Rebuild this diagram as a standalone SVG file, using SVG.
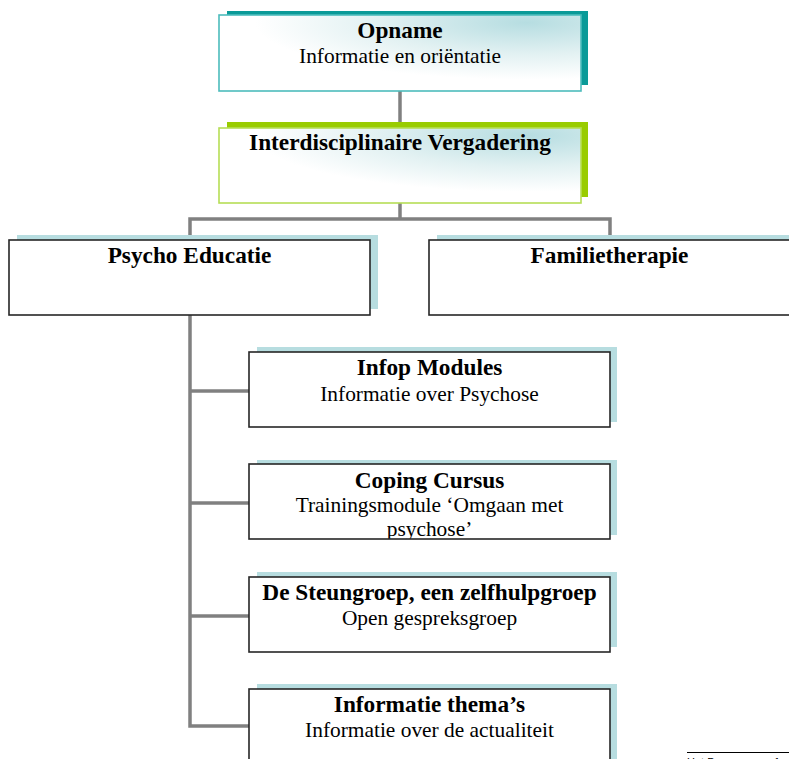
<svg xmlns="http://www.w3.org/2000/svg" width="789" height="759" viewBox="0 0 789 759">
<defs>
<radialGradient id="g" cx="0.85" cy="0.1" r="0.75">
<stop offset="0" stop-color="#b6dde1"/>
<stop offset="0.55" stop-color="#e2f1f2"/>
<stop offset="1" stop-color="#ffffff"/>
</radialGradient>
<clipPath id="clipCoping"><rect x="249" y="464" width="361" height="75"/></clipPath>
</defs>
<style>
.b{font-family:"Liberation Serif","Times New Roman",serif;font-weight:bold;font-size:23.3px;text-anchor:middle;fill:#000}
.n{font-family:"Liberation Serif","Times New Roman",serif;font-size:21.4px;text-anchor:middle;fill:#000}
.sh{fill:#b7dde0}
.bx{fill:#fff;stroke:#262626;stroke-width:1.6}
.c{stroke:#808080;stroke-width:3.5;fill:none}
</style>
<rect width="789" height="759" fill="#fff"/>
<g id="connectors">
<line class="c" x1="400" y1="91" x2="400" y2="128"/>
<polyline class="c" points="400,203 400,219"/>
<polyline class="c" points="190,240 190,219 610,219 610,240"/>
<polyline class="c" points="190,315 190,726 249,726"/>
<line class="c" x1="190" y1="391" x2="249" y2="391"/>
<line class="c" x1="190" y1="503" x2="249" y2="503"/>
<line class="c" x1="190" y1="616" x2="249" y2="616"/>
</g>
<g id="opname">
<rect x="227" y="11" width="361" height="74" fill="#0a9a98"/>
<rect x="219" y="15" width="362" height="76" fill="url(#g)" stroke="#4dbcbc" stroke-width="1.6"/>
<text class="b" x="400" y="38">Opname</text>
<text class="n" x="400" y="63">Informatie en oriëntatie</text>
</g>
<g id="vergadering">
<rect x="227" y="122" width="361" height="75" fill="#99cc00"/>
<rect x="219" y="128" width="362" height="75" fill="url(#g)" stroke="#b6de55" stroke-width="1.6"/>
<text class="b" x="400" y="150">Interdisciplinaire Vergadering</text>
</g>
<g id="psycho">
<rect class="sh" x="17" y="235" width="361" height="74"/>
<rect class="bx" x="9" y="240" width="361" height="75"/>
<text class="b" x="189.5" y="263">Psycho Educatie</text>
</g>
<g id="familie">
<rect class="sh" x="437" y="235" width="361" height="74"/>
<rect class="bx" x="429" y="240" width="361" height="75"/>
<text class="b" x="609.5" y="263">Familietherapie</text>
</g>
<g id="infop">
<rect class="sh" x="257" y="347" width="360" height="75"/>
<rect class="bx" x="249" y="352" width="361" height="75"/>
<text class="b" x="429.5" y="375">Infop Modules</text>
<text class="n" x="429.5" y="401">Informatie over Psychose</text>
</g>
<g id="coping">
<rect class="sh" x="257" y="460" width="360" height="75"/>
<rect x="249" y="464" width="361" height="75" fill="#fff"/>
<g clip-path="url(#clipCoping)">
<text class="b" x="429.5" y="488">Coping Cursus</text>
<text class="n" x="429.5" y="512">Trainingsmodule ‘Omgaan met</text>
<text class="n" x="429.5" y="536">psychose’</text>
</g>
<rect x="249" y="464" width="361" height="75" fill="none" stroke="#262626" stroke-width="1.6"/>
</g>
<g id="steungroep">
<rect class="sh" x="257" y="572" width="360" height="75"/>
<rect class="bx" x="249" y="577" width="361" height="75"/>
<text class="b" x="429.5" y="600">De Steungroep, een zelfhulpgroep</text>
<text class="n" x="429.5" y="625">Open gespreksgroep</text>
</g>
<g id="thema">
<rect class="sh" x="257" y="684" width="360" height="80"/>
<rect class="bx" x="249" y="689" width="361" height="80"/>
<text class="b" x="429.5" y="712">Informatie thema’s</text>
<text class="n" x="429.5" y="737">Informatie over de actualiteit</text>
</g>
<g id="footer">
<line x1="687" y1="752.5" x2="789" y2="752.5" stroke="#000" stroke-width="1"/>
<text x="687" y="766" font-family="Liberation Sans, Arial, sans-serif" font-size="11" fill="#000">Het Programma</text>
<text x="774" y="766" font-family="Liberation Sans, Arial, sans-serif" font-size="11" fill="#000">1</text>
</g>
</svg>
